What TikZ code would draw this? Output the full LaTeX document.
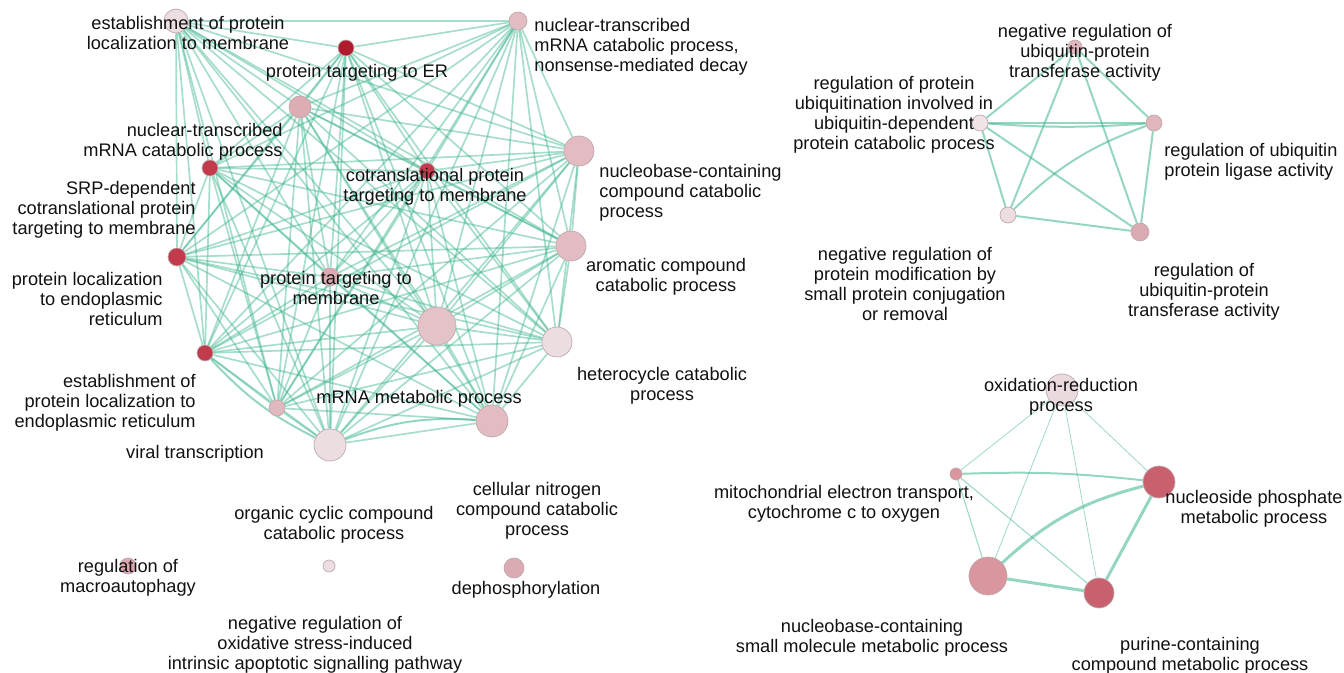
\documentclass[tikz,border=0pt]{standalone}
\usepackage{fontspec}
\setmainfont{Liberation Sans}
\usetikzlibrary{backgrounds}
\definecolor{edgec}{RGB}{60,180,140}
\definecolor{nborder}{RGB}{190,170,174}
\definecolor{cvl}{HTML}{ECDDE0}
\definecolor{clp}{HTML}{E2BCC2}
\definecolor{cpk}{HTML}{DCAAB2}
\definecolor{cred}{HTML}{C13B4D}
\definecolor{cdred}{HTML}{B01B2D}
\definecolor{cmr}{HTML}{C8606E}
\definecolor{cmp}{HTML}{D9969F}
\definecolor{txt}{HTML}{111111}
\begin{document}
\begin{tikzpicture}[x=0.5pt,y=-0.5pt,
  term/.style={circle, draw=nborder, line width=0.35pt, inner sep=0pt, minimum size=#1},
  lbl/.style={font=\fontsize{9.1}{10}\selectfont, inner sep=0pt, align=center, text=txt, yshift=-1pt},
  lblr/.style={lbl, align=right, anchor=east},
  lbll/.style={lbl, align=left, anchor=west},
  edge/.style={draw=edgec, opacity=0.45, line width=0.85pt},
  thin edge/.style={draw=edgec, opacity=0.5, line width=0.4pt},
  mid edge/.style={draw=edgec, opacity=0.55, line width=1pt},
  thick edge/.style={draw=edgec, opacity=0.55, line width=1.5pt}]
\useasboundingbox (0,0) rectangle (1344,673);
% ---- big cluster nodes
\node[term=12pt, fill=cvl]   (A) at (176,21) {};
\node[term=8pt,  fill=cdred] (B) at (346,48) {};
\node[term=9pt,  fill=clp]   (C) at (518,21) {};
\node[term=11pt, fill=cpk!85!clp] (D) at (300,107) {};
\node[term=8pt,  fill=cred]  (E) at (210,168) {};
\node[term=8pt,  fill=cred]  (F) at (427,171) {};
\node[term=15pt, fill=clp]   (G) at (579,151) {};
\node[term=9pt,  fill=cred]  (H) at (177,257) {};
\node[term=9pt,  fill=cpk]   (I) at (330,277) {};
\node[term=15pt, fill=clp]   (J) at (571,246) {};
\node[term=19pt, fill=clp!80!cvl] (K) at (437,326) {};
\node[term=15pt, fill=cvl]   (L) at (557,342) {};
\node[term=8pt,  fill=cred]  (M) at (205,353) {};
\node[term=8pt,  fill=clp!80!cpk] (N) at (277,408) {};
\node[term=16pt, fill=clp]   (O) at (492,421) {};
\node[term=16pt, fill=cvl]   (P) at (330,445) {};
% ---- ubiquitin cluster
\node[term=7pt, fill=clp!70!cpk] (U1) at (1075,47) {};
\node[term=8pt, fill=cvl!80!white] (U2) at (980,123) {};
\node[term=8pt, fill=clp!60!cpk] (U3) at (1154,123) {};
\node[term=8pt, fill=cvl] (U4) at (1008,215) {};
\node[term=9pt, fill=cpk] (U5) at (1140,232) {};
% ---- oxidation cluster
\node[term=16pt, fill=cvl!90!clp] (V1) at (1062,390) {};
\node[term=6pt,  fill=cmp]  (V2) at (956,474) {};
\node[term=16pt, fill=cmr]  (V3) at (1159,482) {};
\node[term=19pt, fill=cmp]  (V4) at (988,576) {};
\node[term=15pt, fill=cmr]  (V5) at (1099,593) {};
% ---- singletons
\node[term=8pt,  fill=cpk!90!cmp] (S1) at (128,566) {};
\node[term=6pt,  fill=cvl] (S2) at (329,566) {};
\node[term=10pt, fill=cpk] (S3) at (514,568) {};
% ---- edges
\begin{scope}[on background layer]
\foreach \a/\rest in {A/{B,C,D,E,F,G,H,I,J,K,L,M,N,O,P},
                      B/{C,D,E,F,G,H,I,J,K,L,M,N,O,P},
                      C/{D,E,F,G,H,I,J,K,L,M,N,O,P},
                      D/{E,F,G,H,I,J,K,L,M,N,O,P},
                      E/{F,G,H,I,J,K,L,M,N,O,P},
                      F/{G,H,I,J,K,L,M,N,O,P},
                      G/{H,I,J,K,L,M,N,O,P},
                      H/{I,J,K,L,M,N,O,P},
                      I/{J,K,L,M,N,O,P},
                      J/{K,L,M,N,O,P},
                      K/{L,M,N,O,P},
                      L/{M,N,O,P},
                      M/{N,O,P},
                      N/{O,P},
                      O/{P}}{
  \foreach \b in \rest { \draw[edge] (\a) -- (\b); }
}
\draw[mid edge] (P) to[bend left=12] (O);
\draw[mid edge] (M) to[bend right=10] (P);
% ubiquitin
\draw[mid edge] (U1) -- (U2);
\draw[mid edge] (U1) -- (U3);
\draw[mid edge] (U1) -- (U4);
\draw[mid edge] (U1) -- (U5);
\draw[mid edge] (U2) to[bend right=4] (U3);
\draw[mid edge] (U2) -- (U3);
\draw[mid edge] (U2) -- (U4);
\draw[mid edge] (U2) -- (U5);
\draw[mid edge] (U3) to[bend right=12] (U4);
\draw[mid edge] (U3) -- (U5);
\draw[mid edge] (U4) -- (U5);
% oxidation
\draw[thin edge] (V1) -- (V2);
\draw[thin edge] (V1) -- (V3);
\draw[thin edge] (V1) -- (V4);
\draw[thin edge] (V1) -- (V5);
\draw[mid edge] (V2) to[bend left=4] (V3);
\draw[thin edge, line width=0.55pt] (V2) -- (V4);
\draw[thin edge, line width=0.55pt] (V2) -- (V5);
\draw[thick edge] (V4) to[bend left=14] (V3);
\draw[thick edge] (V3) -- (V5);
\draw[thick edge] (V4) -- (V5);
\end{scope}
% ---- labels
\node[lbl] (lA) at (188,31) {establishment of protein\\localization to membrane};
\node[lbl] (lB) at (357,71) {protein targeting to ER};
\node[lbll] (lC) at (534,45) {nuclear-transcribed\\mRNA catabolic process,\\nonsense-mediated decay};
\node[lblr] (lE) at (283,140) {nuclear-transcribed\\mRNA catabolic process};
\node[lblr] (lH) at (196,208) {SRP-dependent\\cotranslational protein\\targeting to membrane};
\node[lblr] (lPL) at (163,297) {protein localization\\to endoplasmic\\reticulum};
\node[lblr] (lM) at (196,401) {establishment of\\protein localization to\\endoplasmic reticulum};
\node[lbl] (lVT) at (195,452) {viral transcription};
\node[lbl] (lMR) at (419,397) {mRNA metabolic process};
\node[lbl] (lI) at (336,286) {protein targeting to\\membrane};
\node[lbl] (lF) at (435,185) {cotranslational protein\\targeting to membrane};
\node[lbll] (lG) at (599,191) {nucleobase-containing\\compound catabolic\\process};
\node[lbl] (lJ) at (666,275) {aromatic compound\\catabolic process};
\node[lbl] (lL) at (662,384) {heterocycle catabolic\\process};
\node[lbl] (lOC) at (334,523) {organic cyclic compound\\catabolic process};
\node[lbl] (lCN) at (537,509) {cellular nitrogen\\compound catabolic\\process};
\node[lbl] (lS1) at (128,576) {regulation of\\macroautophagy};
\node[lbl] (lS3) at (526,588) {dephosphorylation};
\node[lbl] (lS2) at (315,643) {negative regulation of\\oxidative stress-induced\\intrinsic apoptotic signalling pathway};
\node[lbl] (lU1) at (1085,51) {negative regulation of\\ubiquitin-protein\\transferase activity};
\node[lbl] (lU2) at (894,113) {regulation of protein\\ubiquitination involved in\\ubiquitin-dependent\\protein catabolic process};
\node[lbll] (lU3) at (1164,160) {regulation of ubiquitin\\protein ligase activity};
\node[lbl] (lU4) at (905,282) {negative regulation of\\protein modification by\\small protein conjugation\\or removal};
\node[lbl] (lU5) at (1204,290) {regulation of\\ubiquitin-protein\\transferase activity};
\node[lbl] (lV1) at (1061,395) {oxidation-reduction\\process};
\node[lbl] (lV2) at (844,502) {mitochondrial electron transport,\\cytochrome c to oxygen};
\node[lbl] (lV3) at (1254,507) {nucleoside phosphate\\metabolic process};
\node[lbl] (lV4) at (872,636) {nucleobase-containing\\small molecule metabolic process};
\node[lbl] (lV5) at (1190,654) {purine-containing\\compound metabolic process};
\end{tikzpicture}
\end{document}
